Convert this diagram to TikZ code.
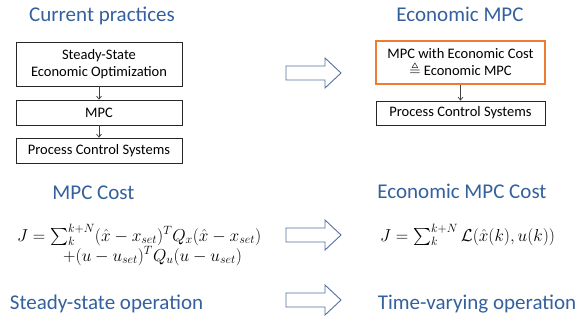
\documentclass[tikz,border=0pt]{standalone}
\usepackage{amsmath,amssymb}
\usepackage{fontspec}
\setmainfont{Carlito}
\usetikzlibrary{arrows.meta}
\definecolor{ttl}{RGB}{52,96,158}
\definecolor{arr}{RGB}{84,112,160}
\definecolor{org}{RGB}{237,125,49}
\tikzset{
  ttl/.style={text=ttl,font=\fontsize{21}{25}\selectfont,inner sep=0pt,anchor=base},
  bx/.style={draw=black!85,line width=0.8pt,font=\fontsize{14.5}{17.4}\selectfont,align=center,inner sep=0pt},
  obx/.style={bx,draw=org,line width=1.8pt},
  conn/.style={draw=black!75,line width=0.7pt,-{Straight Barb[length=3pt,width=5pt]}},
  bigarr/.style={draw=arr,line width=0.9pt,fill=white,line join=miter},
  eq/.style={font=\fontsize{17}{20}\selectfont,inner sep=0pt,anchor=base west}
}
\begin{document}
\begin{tikzpicture}[x=1pt,y=-1pt]
\useasboundingbox (0,0) rectangle (578,322);
% titles
\node[ttl] (t1) at (102,21) {Current practices};
\node[ttl] (t2) at (460,21) {Economic MPC};
\node[ttl] (t3) at (93.5,199) {MPC Cost};
\node[ttl] (t4) at (462,198) {Economic MPC Cost};
\node[ttl] (t5) at (106.5,309) {Steady-state operation};
\node[ttl] (t6) at (477,309) {Time-varying operation};
% left boxes
\node[bx,minimum width=166pt,minimum height=44pt] (b1) at (99,64) {Steady-State\\Economic Optimization};
\node[bx,minimum width=166pt,minimum height=25pt] (b2) at (99,112.5) {MPC};
\node[bx,minimum width=166pt,minimum height=25pt] (b3) at (99,150.5) {Process Control Systems};
\draw[conn] (b1) -- (b2);
\draw[conn] (b2) -- (b3);
% right boxes
\node[obx,minimum width=169pt,minimum height=43pt] (r1) at (460.5,62.5) {MPC with Economic Cost\\$\triangleq$ Economic MPC};
\node[bx,minimum width=169pt,minimum height=24pt] (r2) at (460.5,113) {Process Control Systems};
\draw[conn] (r1) -- (r2);
% hollow arrows
\foreach \yy in {73,235,300}{
  \draw[bigarr] (286,\yy-7) -- (325,\yy-7) -- (325,\yy-15) -- (341,\yy) -- (325,\yy+15) -- (325,\yy+7) -- (286,\yy+7) -- cycle;
}
% equations
\node[eq] (e1) at (17,241) {$J=\textstyle\sum_{k}^{k+N}(\hat{x}-x_{set})^{T}Q_{x}(\hat{x}-x_{set})$};
\node[eq] (e2) at (63,261) {$+(u-u_{set})^{T}Q_{u}(u-u_{set})$};
\node[eq] (e3) at (380,241) {$J=\textstyle\sum_{k}^{k+N}\mathcal{L}(\hat{x}(k),u(k))$};
\end{tikzpicture}
\end{document}
